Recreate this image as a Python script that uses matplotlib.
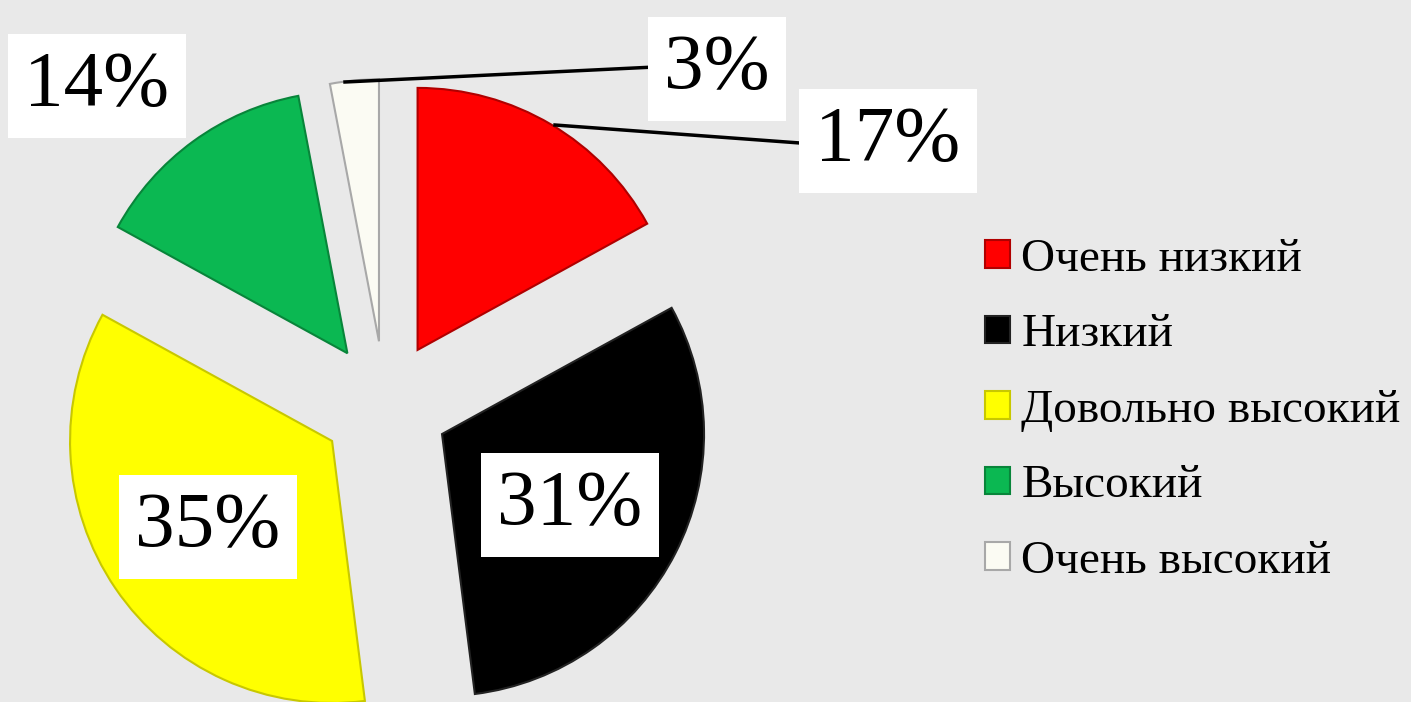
import matplotlib.pyplot as plt

# данные
categories = ['Очень низкий', 'Низкий', 'Довольно высокий', 'Высокий', 'Очень высокий']
shares = [17, 31, 35, 14, 3]
pct_labels = ['17%', '31%', '35%', '14%', '3%']
colors = ['#ff0000', '#000000', '#ffff00', '#0bb852', '#fbfbf3']
edges = ['#b00000', '#222222', '#c8c800', '#08853a', '#a8a8a8']

W, H = 1411, 702
fig = plt.figure(figsize=(W / 100, H / 100), dpi=100)
fig.patch.set_facecolor('#e9e9e9')
ax = fig.add_axes([0, 0, 1, 1])
ax.set_facecolor('#e9e9e9')

wedges, _ = ax.pie(shares, colors=colors, startangle=90, counterclock=False,
                   center=(385, H - 405), radius=262, explode=[64] * 5,
                   wedgeprops=dict(linewidth=1.5))
for w, ec in zip(wedges, edges):
    w.set_edgecolor(ec)

ax.set_xlim(0, W)
ax.set_ylim(0, H)
ax.set_aspect('equal')
ax.axis('off')

font = ['Liberation Serif', 'DejaVu Serif']
box = dict(boxstyle='square,pad=0.21', fc='white', ec='none')

# подписи (центры в пикселях, y сверху)
label_pos = [(888, 141), (570, 505), (208, 527), (97, 86), (717, 69)]
leader_from = {0: (555, 125), 4: (345, 82)}
leader_to = {0: (800, 143), 4: (655, 67)}
for i, (txt, (px, py)) in enumerate(zip(pct_labels, label_pos)):
    if i in leader_from:
        (x0, y0), (x1, y1) = leader_from[i], leader_to[i]
        ax.plot([x0, x1], [H - y0, H - y1], color='black', lw=2.5, zorder=3)
    ax.text(px, H - py, txt, ha='center', va='center', fontsize=57,
            family=font, bbox=box, zorder=4)

leg = ax.legend(wedges, categories, loc='upper left',
                bbox_to_anchor=(985 / W, 1 - 238 / H),
                bbox_transform=fig.transFigure, frameon=False,
                prop=dict(family=font, size=34), handlelength=0.52,
                handleheight=0.52, handletextpad=0.25, labelspacing=0.70,
                borderpad=0, borderaxespad=0)

fig.savefig('out.png', dpi=100, facecolor=fig.get_facecolor())
